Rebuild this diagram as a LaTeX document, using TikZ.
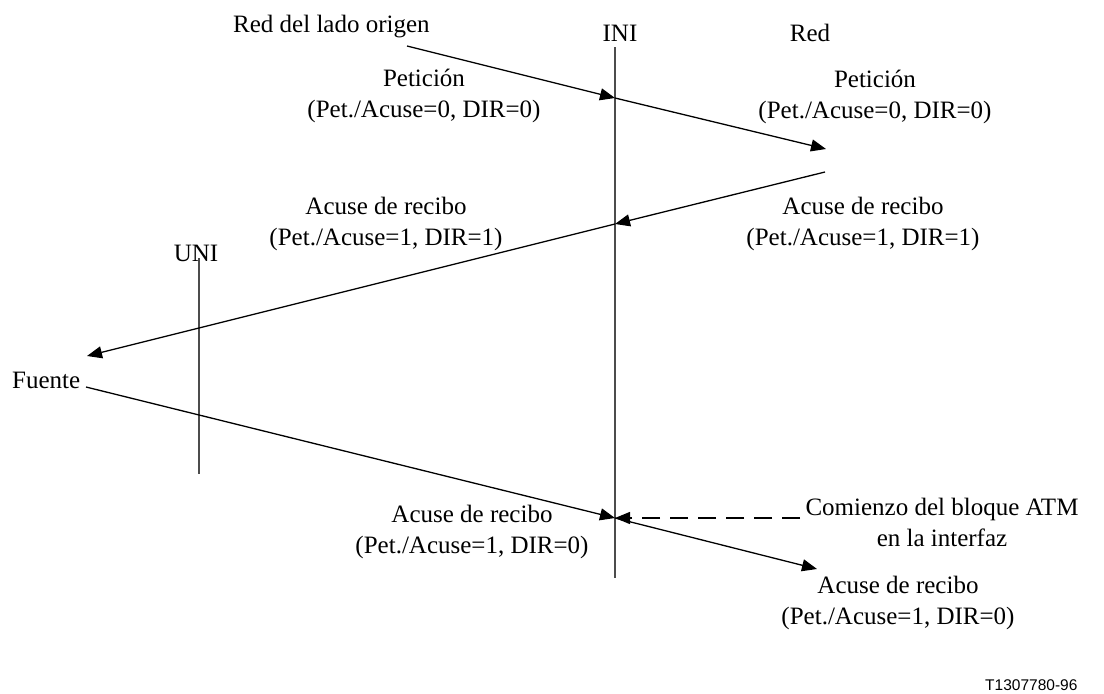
\documentclass[tikz,border=0pt]{standalone}
\usepackage{fontspec}
\setmainfont{Liberation Serif}
\newfontfamily\refsans{Liberation Sans}
\usetikzlibrary{arrows.meta}
\newcommand\lblpair[2]{\begin{tabular}[t]{@{}c@{}}#1\\#2\end{tabular}}
\begin{document}
\begin{tikzpicture}[x=1pt,y=-1pt,
  msg/.style={draw=black, line width=1.3pt, -{Triangle[length=15pt,width=12pt]}},
  dashmsg/.style={msg, dash pattern=on 18pt off 10pt},
  axisline/.style={draw=black!70, line width=1.8pt},
  lbl/.style={inner sep=0pt, font=\fontsize{25}{31}\selectfont},
  ]
\useasboundingbox (0,0) rectangle (1104,694);

% interface lines
\coordinate (iniT) at (615,47);
\coordinate (iniB) at (615,578);
\coordinate (uniT) at (199,258);
\coordinate (uniB) at (199,474);
\draw[axisline] (iniT) -- (iniB);
\draw[axisline] (uniT) -- (uniB);

% message points
\coordinate (p0) at (407,46);
\coordinate (p1) at (615,98);
\coordinate (p2) at (826,149);
\coordinate (a0) at (825,172);
\coordinate (a1) at (615,224);
\coordinate (a2) at (87,356);
\coordinate (f0) at (86,387);
\coordinate (f1) at (615,518);
\coordinate (d0) at (800,518);
\coordinate (r2) at (817,569);

\draw[msg] (p0) -- (p1);
\draw[msg] (p1) -- (p2);
\draw[msg] (a0) -- (a1);
\draw[msg] (a1) -- (a2);
\draw[msg] (f0) -- (f1);
\draw[dashmsg] (d0) -- (f1);
\draw[msg] (f1) -- (r2);

% labels
\node[lbl, anchor=base west] (lorig) at (233,32) {Red del lado origen};
\node[lbl, anchor=base] (lini) at (620,41) {INI};
\node[lbl, anchor=base] (lred) at (810,41) {Red};
\node[lbl, anchor=base] (lpet1) at (424,86) {\lblpair{Petición}{(Pet./Acuse=0, DIR=0)}};
\node[lbl, anchor=base] (lpet2) at (875,87) {\lblpair{Petición}{(Pet./Acuse=0, DIR=0)}};
\node[lbl, anchor=base] (lac1) at (386,214) {\lblpair{Acuse de recibo}{(Pet./Acuse=1, DIR=1)}};
\node[lbl, anchor=base] (lac2) at (863,214) {\lblpair{Acuse de recibo}{(Pet./Acuse=1, DIR=1)}};
\node[lbl, anchor=base] (luni) at (196,261) {UNI};
\node[lbl, anchor=base west] (lfue) at (12,388) {Fuente};
\node[lbl, anchor=base] (lac3) at (472,522) {\lblpair{Acuse de recibo}{(Pet./Acuse=1, DIR=0)}};
\node[lbl, anchor=base] (lcom) at (942,515) {\lblpair{Comienzo del bloque ATM}{en la interfaz}};
\node[lbl, anchor=base] (lac4) at (898,593) {\lblpair{Acuse de recibo}{(Pet./Acuse=1, DIR=0)}};
\node[inner sep=0pt, anchor=base west, font=\refsans\fontsize{15.5}{18}\selectfont] (lcode) at (985,690) {T1307780-96};
\end{tikzpicture}
\end{document}
